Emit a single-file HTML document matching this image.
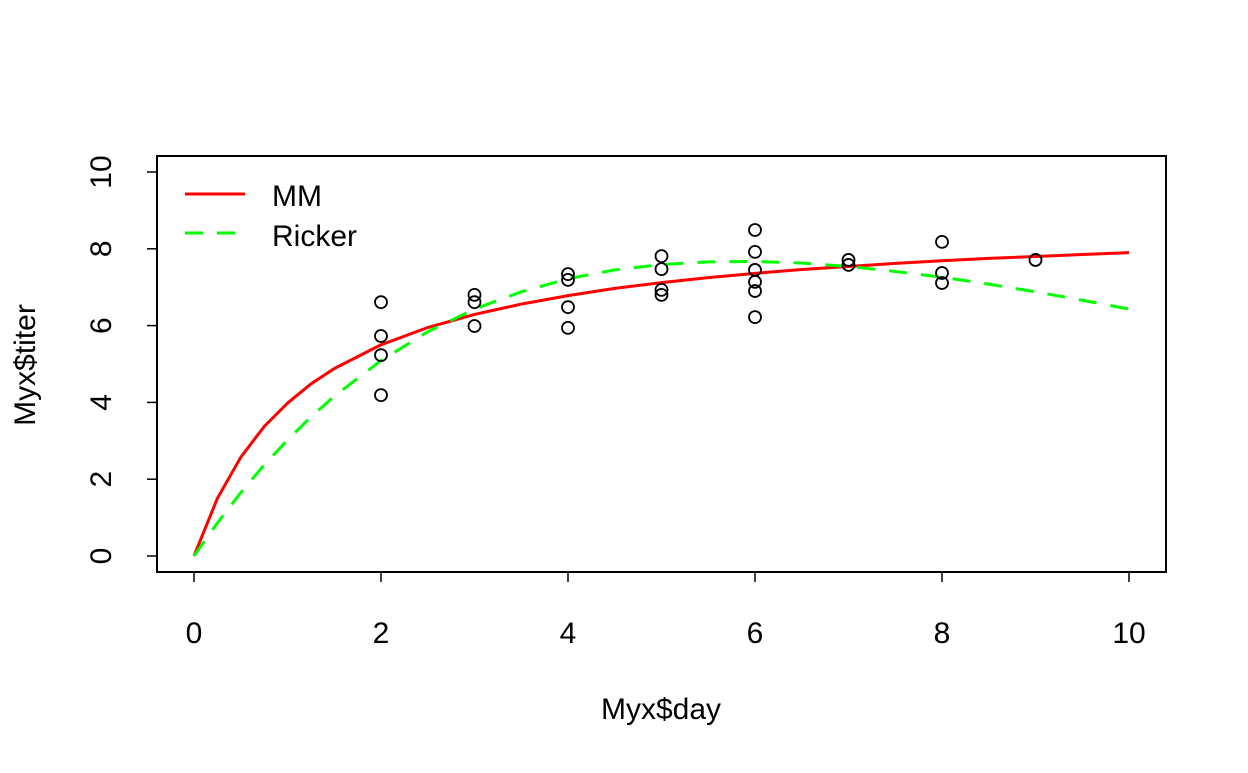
<!DOCTYPE html>
<html><head><meta charset="utf-8"><style>
body{margin:0;background:#fff}
svg text{font-family:"Liberation Sans",Arial,sans-serif;font-size:30px;fill:#000}
</style></head><body>
<svg id="chart" width="1248" height="768">
<rect x="157" y="156" width="1009" height="416" fill="none" stroke="#000" stroke-width="2"/>
<g id="axes"></g>
<g id="series"></g>
<g id="points"></g>
<text x="661" y="719" text-anchor="middle">Myx$day</text>
<text transform="translate(35,365) rotate(-90)" text-anchor="middle">Myx$titer</text>
<g>
<line x1="185" y1="194" x2="245" y2="194" stroke="#f00" stroke-width="3"/>
<text x="272" y="206">MM</text>
<line x1="185" y1="233" x2="245" y2="233" stroke="#0f0" stroke-width="3" stroke-dasharray="18,14"/>
<text x="272" y="246">Ricker</text>
</g>
</svg>
<script>
const xTicks=[0,2,4,6,8,10];
const yTicks=[0,2,4,6,8,10];
const dayValues=[2,2,2,2,3,3,3,4,4,4,4,5,5,5,5,6,6,6,6,6,6,7,7,8,8,8,9];
const titerValues=[6.61,5.73,5.23,4.19,6.80,6.61,5.99,7.34,7.19,6.48,5.94,7.81,7.47,6.93,6.80,8.49,7.92,7.45,7.14,6.90,6.22,7.71,7.58,8.18,7.37,7.11,7.71];
const curveX=[0,0.25,0.5,0.75,1,1.25,1.5,2,2.5,3,3.5,4,4.5,5,5.5,6,6.5,7,7.5,8,8.5,9,9.5,10];
const mmValues=[0,1.50,2.57,3.37,3.98,4.48,4.88,5.50,5.95,6.29,6.56,6.78,6.97,7.12,7.25,7.36,7.46,7.54,7.62,7.69,7.75,7.80,7.85,7.90];
const rickerValues=[0,0.86,1.65,2.37,3.02,3.62,4.16,5.09,5.84,6.43,6.88,7.22,7.45,7.59,7.66,7.67,7.63,7.54,7.41,7.26,7.08,6.88,6.66,6.43];
const NS="http://www.w3.org/2000/svg";
const xs=v=>194+v*93.5, ys=v=>556-v*38.4;
function mk(t,a,p){const e=document.createElementNS(NS,t);for(const k in a)e.setAttribute(k,a[k]);p.appendChild(e);return e;}
const ax=document.getElementById('axes');
xTicks.forEach(t=>{
 const l=mk('line',{x1:xs(t),x2:xs(t),y1:572,y2:582,stroke:'#000','stroke-width':1.5},ax);
 
 
 const tx=mk('text',{x:xs(t),y:643,'text-anchor':'middle'},ax);tx.textContent=t;
 
 
});
yTicks.forEach(t=>{
 const l=mk('line',{x1:147,x2:157,y1:ys(t),y2:ys(t),stroke:'#000','stroke-width':1.5},ax);
 
 
 const tx=mk('text',{transform:`translate(111,${ys(t)}) rotate(-90)`,'text-anchor':'middle'},ax);tx.textContent=t;
 
 
});
const sg=document.getElementById('series');
const mm=mk('polyline',{points:curveX.map((x,i)=>xs(x)+','+ys(mmValues[i])).join(' '),fill:'none',stroke:'#f00','stroke-width':3},sg);


const rk=mk('polyline',{points:curveX.map((x,i)=>xs(x)+','+ys(rickerValues[i])).join(' '),fill:'none',stroke:'#0f0','stroke-width':3,'stroke-dasharray':'18,14'},sg);


const pg=document.getElementById('points');
dayValues.forEach((d,i)=>{
 const c=mk('circle',{cx:xs(d),cy:ys(titerValues[i]),r:6,fill:'none',stroke:'#000','stroke-width':1.8},pg);
 
 
});
</script>
</body></html>
